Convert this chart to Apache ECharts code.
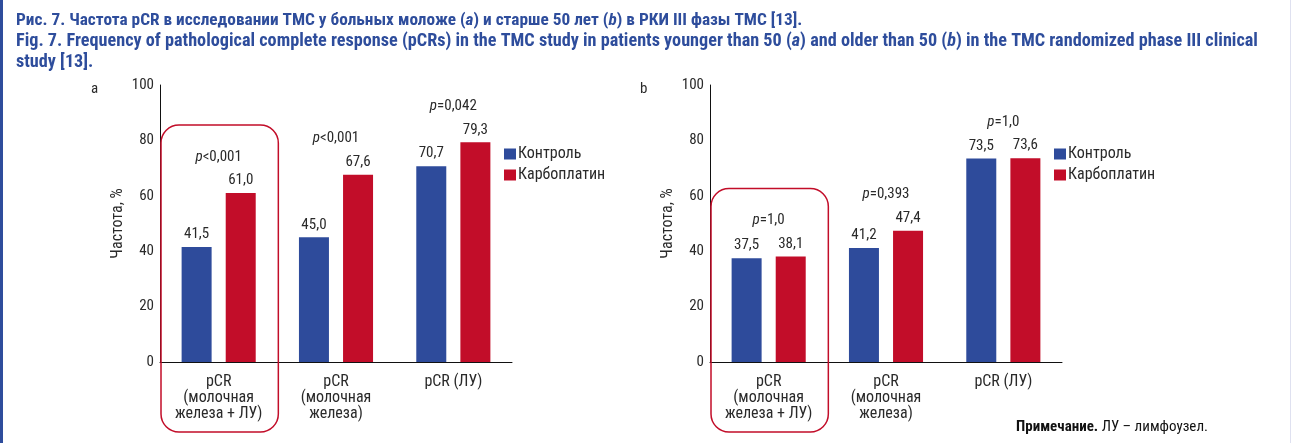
<!DOCTYPE html>
<html>
<head>
<meta charset="utf-8">
<script src="https://cdn.jsdelivr.net/npm/echarts@6/dist/echarts.min.js"></script>
<style>
  html, body { margin: 0; padding: 0; background: #fff; }
  #wrap { width: 1291px; height: 443px; box-sizing: border-box;
          border-left: 3px solid #2e4d9c; border-right: 1px solid #dfe1f0; }
  #chart { width: 1287px; height: 443px; }
</style>
</head>
<body>
<div id="wrap"><div id="chart"></div></div>
<script>
// Categories shared by both panels
const categories = ['pCR\n(молочная\nжелеза + ЛУ)', 'pCR\n(молочная\nжелеза)', 'pCR (ЛУ)'];
const seriesNames = ['Контроль', 'Карбоплатин'];

// Panel a: patients younger than 50
const controlA = [41.5, 45.0, 70.7];
const carboA   = [61.0, 67.6, 79.3];
const pA = ['<0,001', '<0,001', '=0,042'];

// Panel b: patients older than 50
const controlB = [37.5, 41.2, 73.5];
const carboB   = [38.1, 47.4, 73.6];
const pB = ['=1,0', '=0,393', '=1,0'];

// Category framed by the rounded box in each panel
const highlightIndex = 0;

const yTicks = [0, 20, 40, 60, 80, 100];

// Figure caption, Russian and English
const captionLines = [
  'Рис. 7. Частота pCR в исследовании ТМС у больных моложе ({i|a}) и старше 50 лет ({i|b}) в РКИ III фазы ТМС [13].',
  'Fig. 7. Frequency of pathological complete response (pCRs) in the TMC study in patients younger than 50 ({i|a}) and older than 50 ({i|b}) in the TMC randomized phase III clinical',
  'study [13].'
];

const FONT = "'Liberation Sans Narrow', 'Roboto Condensed', 'DejaVu Sans Condensed', sans-serif";
const BLUE = '#2e4b9b';
const RED = '#c20d29';
const TEXT = '#2a2a2a';
const CAPTION = '#2e4d9c';

const chart = echarts.init(document.getElementById('chart'), null, { renderer: 'canvas' });

function fmt(v) { return v.toFixed(1).replace('.', ','); }

function barSeries(name, data, axisIdx, color) {
  return {
    type: 'bar', name: name, data: data,
    xAxisIndex: axisIdx, yAxisIndex: axisIdx,
    barWidth: 30, barGap: '47%',
    itemStyle: { color: color },
    label: {
      show: true, position: 'top', distance: 5,
      fontFamily: FONT, fontSize: 15, color: TEXT,
      formatter: p => fmt(p.value)
    }
  };
}

// p-values above each pair and the rounded frame around the highlighted pair
function pSeries(control, carbo, pTexts, axisIdx) {
  return {
    type: 'custom',
    xAxisIndex: axisIdx, yAxisIndex: axisIdx,
    clip: false, silent: true, z: 5,
    encode: { x: 0, y: 1 },
    data: categories.map((c, i) => [i, control[i], carbo[i]]),
    renderItem: function (params, api) {
      const i = api.value(0);
      const top = Math.max(api.value(1), api.value(2));
      const pt = api.coord([i, top]);
      const base = api.coord([i, 0]);
      const band = api.size([1, 0])[0];
      const pY = pt[1] - 36;
      const children = [{
        type: 'text',
        style: {
          x: pt[0], y: pY,
          text: '{i|p}{n|' + pTexts[i] + '}',
          align: 'center', verticalAlign: 'middle',
          rich: {
            i: { fontFamily: FONT, fontSize: 15, fontStyle: 'italic', fill: TEXT },
            n: { fontFamily: FONT, fontSize: 15, fill: TEXT }
          }
        }
      }];
      if (i === highlightIndex) {
        const y1 = pY - 32;
        const y2 = base[1] + 70;
        children.push({
          type: 'rect',
          shape: { x: base[0] - band / 2 + 1, y: y1, width: band, height: y2 - y1, r: 18 },
          style: { fill: 'none', stroke: RED, lineWidth: 1.5 }
        });
      }
      return { type: 'group', children: children };
    }
  };
}

function xAxisOf(gridIdx) {
  return {
    type: 'category', gridIndex: gridIdx, data: categories,
    axisLine: { lineStyle: { color: '#111', width: 1 } },
    axisTick: { alignWithLabel: true, length: 5, lineStyle: { color: '#111' } },
    axisLabel: { fontFamily: FONT, fontSize: 16, color: TEXT, lineHeight: 16, margin: 12 }
  };
}

function yAxisOf(gridIdx) {
  return {
    type: 'value', gridIndex: gridIdx, min: yTicks[0], max: yTicks[yTicks.length - 1],
    interval: yTicks[1] - yTicks[0],
    name: 'Частота, %', nameLocation: 'middle', nameGap: 34, nameRotate: 90,
    nameTextStyle: { fontFamily: FONT, fontSize: 16, color: TEXT },
    axisLine: { show: true, lineStyle: { color: '#111', width: 1 } },
    axisTick: { show: false },
    splitLine: { show: false },
    axisLabel: { fontFamily: FONT, fontSize: 15, color: TEXT, margin: 6 }
  };
}

function legendAt(left) {
  return {
    data: seriesNames, orient: 'vertical', left: left, top: 141,
    icon: 'rect', itemWidth: 12, itemHeight: 11, itemGap: 5,
    textStyle: { fontFamily: FONT, fontSize: 16, color: TEXT, padding: [0, 0, 0, -3] },
    selectedMode: false
  };
}

function captionTitle(text, top, size) {
  return {
    left: 8, top: top, text: text,
    textStyle: {
      fontFamily: FONT, fontSize: size, fontWeight: 'bold', color: CAPTION, lineHeight: 20,
      rich: { i: { fontFamily: FONT, fontSize: size, fontWeight: 'bold', fontStyle: 'italic', color: CAPTION, lineHeight: 20 } }
    }
  };
}

chart.setOption({
  animation: false,
  title: [
    captionTitle(captionLines[0], 6, 17.3),
    captionTitle(captionLines[1], 26, 18.2),
    captionTitle(captionLines[2], 47, 18.2),
    { text: 'a', left: 83, top: 77, textStyle: { fontFamily: FONT, fontSize: 15, fontWeight: 'normal', color: TEXT } },
    { text: 'b', left: 632, top: 77, textStyle: { fontFamily: FONT, fontSize: 15, fontWeight: 'normal', color: TEXT } },
    {
      text: '{b|Примечание.} ЛУ – лимфоузел.', left: 1008, top: 415,
      textStyle: {
        fontFamily: FONT, fontSize: 15, fontWeight: 'normal', color: '#111',
        rich: { b: { fontFamily: FONT, fontSize: 15, fontWeight: 'bold', color: '#111' } }
      }
    }
  ],
  legend: [legendAt(496), legendAt(1046)],
  grid: [
    { left: 157, top: 85, width: 352, height: 277 },
    { left: 707, top: 85, width: 352, height: 277 }
  ],
  xAxis: [xAxisOf(0), xAxisOf(1)],
  yAxis: [yAxisOf(0), yAxisOf(1)],
  series: [
    barSeries(seriesNames[0], controlA, 0, BLUE),
    barSeries(seriesNames[1], carboA, 0, RED),
    pSeries(controlA, carboA, pA, 0),
    barSeries(seriesNames[0], controlB, 1, BLUE),
    barSeries(seriesNames[1], carboB, 1, RED),
    pSeries(controlB, carboB, pB, 1)
  ]
});
</script>
</body>
</html>
